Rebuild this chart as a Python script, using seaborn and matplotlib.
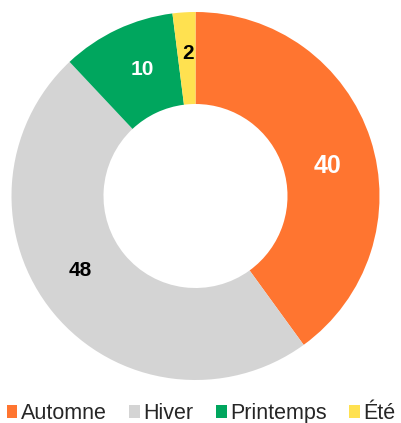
import matplotlib
matplotlib.use("Agg")
import matplotlib.pyplot as plt
import numpy as np
import seaborn as sns

# data
seasons = ["Automne", "Hiver", "Printemps", "Été"]
counts = [40, 48, 10, 2]
colors = ["#FF7530", "#D4D4D4", "#00A65E", "#FFE150"]
label_colors = ["white", "black", "white", "black"]
label_sizes = [18, 15, 15, 15]
# label placement tweaks (radius, angle shift in degrees)
label_r = [0.736, 0.745, 0.745, 0.775]
label_shift = [-5.2, -6.8, -2.5, -0.8]

sns.set_theme(style="white")
plt.rcParams["font.family"] = ["Liberation Sans", "DejaVu Sans"]

fig = plt.figure(figsize=(4.02, 4.23), dpi=100)
W, H = 402, 423
cx, cy, R = 195.5, 227, 184  # pixel center (from bottom) and outer radius
ax = fig.add_axes([(cx - R) / W, (cy - R) / H, 2 * R / W, 2 * R / H])

palette = sns.color_palette(colors)
wedges, texts, autotexts = ax.pie(
    counts,
    colors=palette,
    startangle=90,
    counterclock=False,
    radius=1,
    autopct=lambda p: "{:.0f}".format(p * sum(counts) / 100),
    pctdistance=0.75,
    wedgeprops=dict(width=0.5, linewidth=0),
)
for w, t, c, s, r, d in zip(wedges, autotexts, label_colors, label_sizes, label_r, label_shift):
    ang = np.deg2rad((w.theta1 + w.theta2) / 2 + d)
    t.set_position((r * np.cos(ang), r * np.sin(ang)))
    t.set_color(c)
    t.set_fontsize(s)
    t.set_fontweight("bold")

ax.set_xlim(-1, 1)
ax.set_ylim(-1, 1)
ax.set_aspect("equal")
ax.axis("off")

fig.legend(
    wedges, seasons,
    loc="lower center", bbox_to_anchor=(0.5, -0.003),
    ncol=4, frameon=False, fontsize=15.5,
    handlelength=0.5, handleheight=0.5, handletextpad=0.15,
    columnspacing=1.05, borderpad=0, borderaxespad=0,
)

fig.savefig("out.png", dpi=100)
